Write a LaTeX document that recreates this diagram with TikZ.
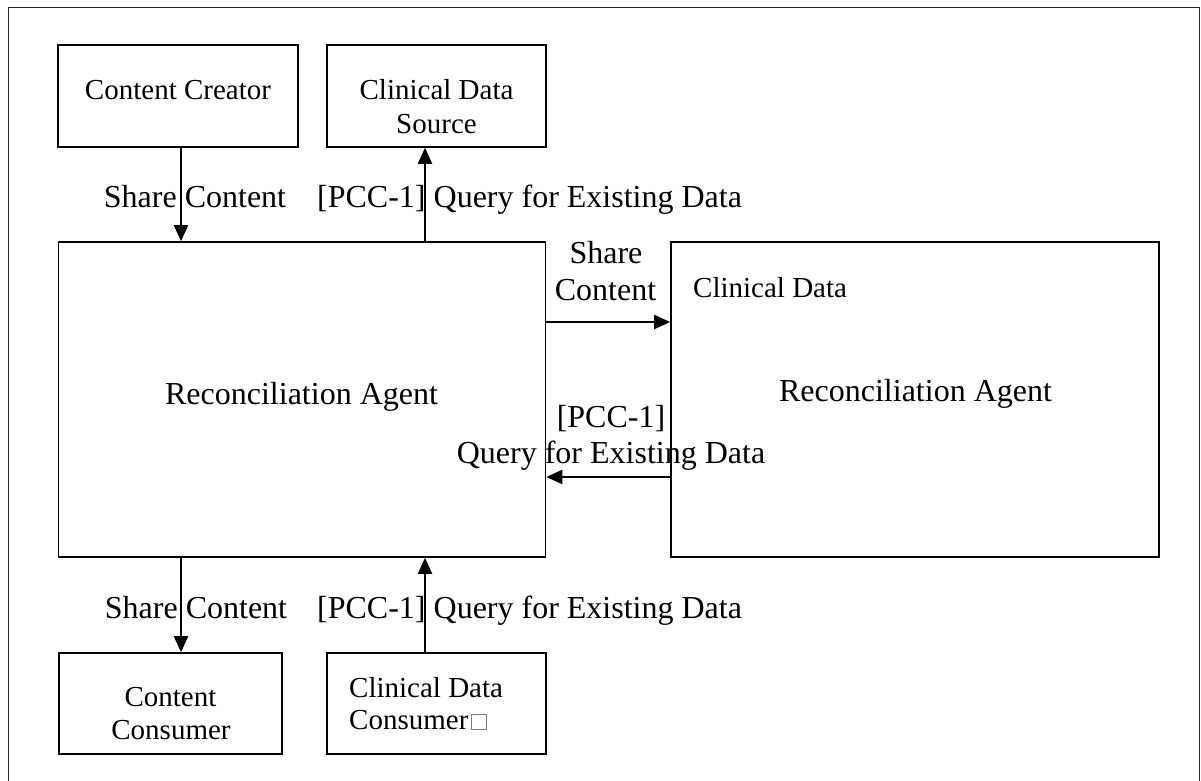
\documentclass[tikz,border=0pt]{standalone}
\usepackage{fontspec}
\setmainfont{Liberation Serif}
\usetikzlibrary{arrows.meta}
\begin{document}
\begin{tikzpicture}[x=1pt,y=-1pt,
  boxnode/.style={draw=black, line width=1.6pt, inner sep=0pt, rectangle},
  arr/.style={draw=black, line width=2.2pt, -{Triangle[length=16pt,width=14pt]}},
  lab/.style={font=\fontsize{32}{38}\selectfont, inner sep=0pt, text=black},
  btxt/.style={font=\fontsize{29}{35}\selectfont, inner sep=0pt, text=black}]
\useasboundingbox (0,0) rectangle (1201,781);
% outer frame (bottom edge not visible)
\draw[line width=1.6pt, black!85] (8.5,781) -- (8.5,7.5) -- (1199.5,7.5) -- (1199.5,781);

% boxes
\node[boxnode, minimum width=240pt, minimum height=102pt] (cc)    at (178,96) {};
\node[boxnode, minimum width=219pt, minimum height=102pt] (cds)   at (436.5,96) {};
\node[boxnode, minimum width=487pt, minimum height=315pt] (ra1)   at (302,399.5) {};
\node[boxnode, minimum width=488pt, minimum height=315pt] (ra2)   at (915,399.5) {};
\node[boxnode, minimum width=223pt, minimum height=101pt] (ccons) at (170.5,703.5) {};
\node[boxnode, minimum width=219pt, minimum height=101pt] (cdc)   at (436.5,703.5) {};

% box texts
\node[btxt, anchor=base] (tcc) at (178,100) {Content Creator};
\node[btxt, anchor=base] (tcds1) at (436.5,100) {Clinical Data};
\node[btxt, anchor=base] (tcds2) at (436.5,133) {Source};
\node[lab, anchor=base] (tra1) at (301.5,404) {Reconciliation Agent};
\node[btxt, anchor=base west] (tra2a) at (693,297) {Clinical Data};
\node[lab, anchor=base] (tra2b) at (915.5,401) {Reconciliation Agent};
\node[btxt, anchor=base] (tcons1) at (170.5,706) {Content};
\node[btxt, anchor=base] (tcons2) at (171,739) {Consumer};
\node[btxt, anchor=base west] (tcdc1) at (349,697) {Clinical Data};
\node[btxt, anchor=base west] (tcdc2) at (349,729) {Consumer\hspace{3pt}\textcolor{gray}{\fboxsep=0pt\fboxrule=0.8pt\fbox{\rule{0pt}{14pt}\hspace{13.5pt}}}};

% connectors
\draw[arr] (cc.south -| 181,0) -- (ra1.north -| 181,0);
\draw[arr] (ra1.north -| 425,0) -- (cds.south -| 425,0);
\draw[arr] (ra1.east |- 0,322) -- (ra2.west |- 0,322);
\draw[arr] (ra2.west |- 0,477) -- (ra1.east |- 0,477);
\draw[arr] (ra1.south -| 181,0) -- (ccons.north -| 181,0);
\draw[arr] (cdc.north -| 425,0) -- (ra1.south -| 425,0);

% connector labels
\node[lab, anchor=base] (l1) at (195,207) {Share Content};
\node[lab, anchor=base west] (l2) at (317,207) {[PCC-1] Query for Existing Data};
\node[lab, anchor=base] (l3a) at (606,263) {Share};
\node[lab, anchor=base] (l3b) at (605.5,300) {Content};
\node[lab, anchor=base] (l4a) at (611,427) {[PCC-1]};
\node[lab, anchor=base] (l4b) at (611,463) {Query for Existing Data};
\node[lab, anchor=base] (l5) at (196,618) {Share Content};
\node[lab, anchor=base west] (l6) at (317,618) {[PCC-1] Query for Existing Data};
\end{tikzpicture}
\end{document}
